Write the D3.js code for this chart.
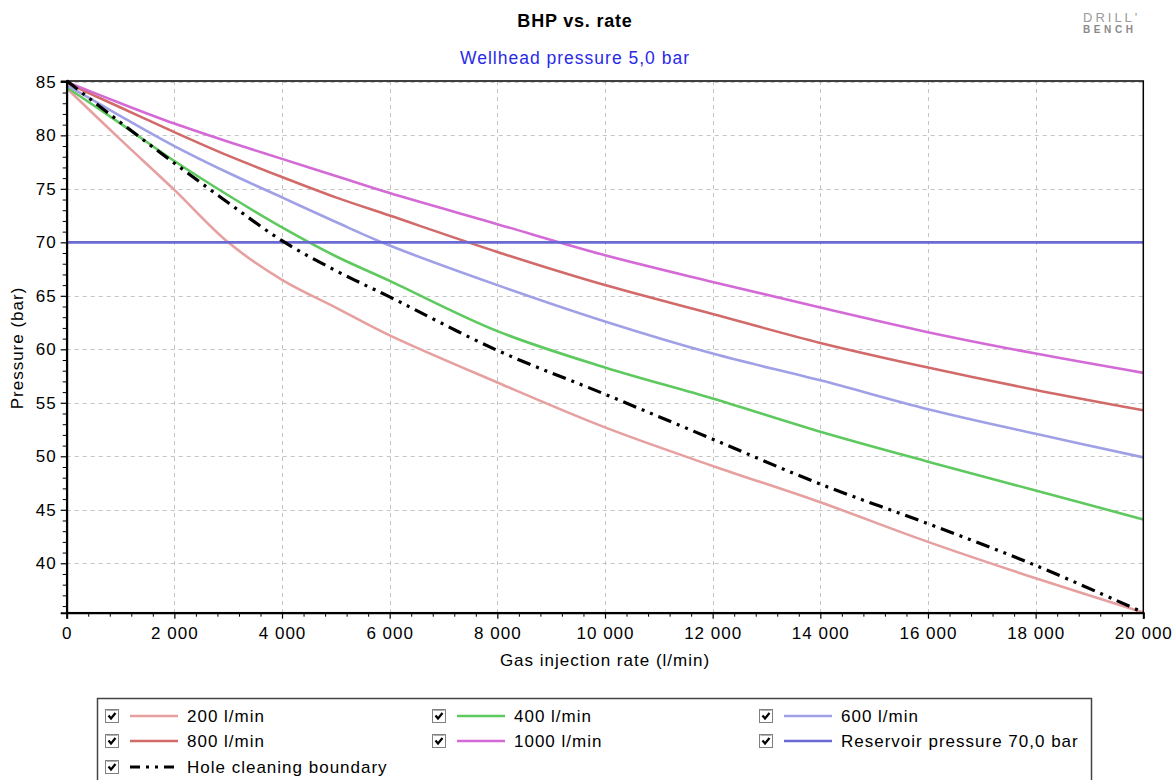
<!DOCTYPE html>
<html>
<head>
<meta charset="utf-8">
<script src="https://cdn.jsdelivr.net/npm/d3@7"></script>
<style>
  html, body { margin: 0; padding: 0; background: #fff; }
  svg text { font-family: "Liberation Sans", Arial, sans-serif; }
</style>
</head>
<body>
<svg id="chart" width="1173" height="780"></svg>
<script>
// ---------------- data ----------------
const rates = [0, 1000, 2000, 3000, 4000, 5000, 6000, 8000, 10000, 12000, 14000, 16000, 18000, 20000];
const bhp200  = [84.4, 79.6, 74.9, 70.0, 66.5, 63.9, 61.3, 56.9, 52.7, 49.1, 45.7, 42.0, 38.6, 35.4];
const bhp400  = [84.5, 81.1, 77.6, 74.4, 71.4, 68.7, 66.4, 61.7, 58.3, 55.4, 52.3, 49.5, 46.8, 44.1];
const bhp600  = [84.7, 81.8, 79.0, 76.5, 74.2, 71.9, 69.7, 66.0, 62.6, 59.6, 57.1, 54.4, 52.1, 49.9];
const bhp800  = [84.9, 82.6, 80.3, 78.1, 76.1, 74.2, 72.5, 69.1, 66.0, 63.3, 60.6, 58.3, 56.2, 54.3];
const bhp1000 = [85.0, 83.0, 81.1, 79.4, 77.8, 76.2, 74.6, 71.7, 68.8, 66.3, 63.9, 61.6, 59.6, 57.8];
const holeCleaning = [85.1, 81.2, 77.4, 73.7, 70.15, 67.35, 64.9, 59.9, 55.8, 51.6, 47.4, 43.7, 39.8, 35.4];
const reservoirPressure = 70.0;
const xTicks = [0, 2000, 4000, 6000, 8000, 10000, 12000, 14000, 16000, 18000, 20000];
const yTicks = [40, 45, 50, 55, 60, 65, 70, 75, 80, 85];
const legendLabels = ["200 l/min", "400 l/min", "600 l/min", "800 l/min", "1000 l/min", "Reservoir pressure 70,0 bar", "Hole cleaning boundary"];
const titleText = "BHP vs. rate";
const subtitleText = "Wellhead pressure 5,0 bar";
const xLabel = "Gas injection rate (l/min)";
const yLabel = "Pressure (bar)";

// ---------------- styles ----------------
const series = [
  { key: "200",  values: bhp200,  color: "#e6a0a0" },
  { key: "400",  values: bhp400,  color: "#5ec95e" },
  { key: "600",  values: bhp600,  color: "#a0a0e6" },
  { key: "800",  values: bhp800,  color: "#d26a6a" },
  { key: "1000", values: bhp1000, color: "#d46ad6" }
];
const resColor = "#6a6ad2";
const holeDash = "14,6,3,6,3,6";

const svg = d3.select("#chart");
const L = 66.7, R = 1143.3, T = 81, B = 612.7;

const x = d3.scaleLinear().domain([0, 20000]).range([L, R]);
const y = d3.scaleLinear().domain([35.38, 85.08]).range([B, T]);

const fmt = v => d3.format(",")(v).replace(/,/g, " ");
const LS = "1px";

// title / subtitle
svg.append("text").attr("x", 575).attr("y", 27).attr("text-anchor", "middle")
  .attr("font-size", 18).attr("font-weight", "bold").attr("letter-spacing", "0.8px").attr("fill", "#000").text(titleText);
svg.append("text").attr("x", 575).attr("y", 64).attr("text-anchor", "middle")
  .attr("font-size", 17.5).attr("letter-spacing", LS).attr("fill", "#2a2ae6").text(subtitleText);

// logo
svg.append("text").attr("x", 1083).attr("y", 22).attr("font-size", 13).attr("letter-spacing", "3px")
  .attr("fill", "#9a9a9a").text("DRILL'");
svg.append("text").attr("x", 1083).attr("y", 33).attr("font-size", 10).attr("font-weight", "bold").attr("letter-spacing", "3.6px")
  .attr("fill", "#8a8a8a").text("BENCH");

// grid
const grid = svg.append("g").attr("stroke", "#c4c4c4").attr("stroke-width", 1).attr("stroke-dasharray", "4,4");
xTicks.filter(v => v > 0 && v < 20000).forEach(v => {
  grid.append("line").attr("x1", Math.round(x(v)) + 0.5).attr("x2", Math.round(x(v)) + 0.5).attr("y1", T).attr("y2", B);
});
yTicks.forEach(v => {
  grid.append("line").attr("x1", L).attr("x2", R).attr("y1", Math.round(y(v)) + 0.5).attr("y2", Math.round(y(v)) + 0.5);
});

// curves
const line = d3.line().x((d, i) => x(rates[i])).y(d => y(d)).curve(d3.curveCatmullRom.alpha(0.5));
const plot = svg.append("g");
series.forEach(s => {
  plot.append("path").attr("d", line(s.values)).attr("fill", "none")
    .attr("stroke", s.color).attr("stroke-width", 2.6);
});
plot.append("line").attr("x1", L).attr("x2", R).attr("y1", y(reservoirPressure)).attr("y2", y(reservoirPressure))
  .attr("stroke", resColor).attr("stroke-width", 2.6);
plot.append("path").attr("d", line(holeCleaning)).attr("fill", "none")
  .attr("stroke", "#000").attr("stroke-width", 3.2).attr("stroke-dasharray", holeDash);

// frame
svg.append("rect").attr("x", L).attr("y", T).attr("width", R - L).attr("height", B - T)
  .attr("fill", "none").attr("stroke", "#000").attr("stroke-width", 1.5);

// axes
const xAxis = d3.axisBottom(x).tickValues(xTicks).tickFormat(fmt).tickSize(6).tickPadding(8);
const gx = svg.append("g").attr("transform", `translate(0,${B})`).call(xAxis);
const yAxis = d3.axisLeft(y).tickValues(yTicks).tickSize(6).tickPadding(4);
const gy = svg.append("g").attr("transform", `translate(${L},0)`).call(yAxis);
[gx, gy].forEach(g => {
  g.select(".domain").attr("stroke", "#000").attr("stroke-width", 2);
  g.selectAll(".tick line").attr("stroke", "#000").attr("stroke-width", 1.2);
  g.selectAll(".tick text").attr("font-size", 17).attr("letter-spacing", LS).attr("fill", "#000")
    .attr("font-family", "'Liberation Sans', Arial, sans-serif");
});
// minor ticks
const xMinor = d3.range(0, 20001, 400).filter(v => v % 2000 !== 0);
svg.append("g").attr("transform", `translate(0,${B})`)
  .call(d3.axisBottom(x).tickValues(xMinor).tickSize(4).tickFormat(""))
  .call(g => g.select(".domain").remove())
  .selectAll("line").attr("stroke", "#000").attr("stroke-width", 1);
const yMinor = d3.range(36, 85, 1).filter(v => v % 5 !== 0);
svg.append("g").attr("transform", `translate(${L},0)`)
  .call(d3.axisLeft(y).tickValues(yMinor).tickSize(4).tickFormat(""))
  .call(g => g.select(".domain").remove())
  .selectAll("line").attr("stroke", "#000").attr("stroke-width", 1);

// axis labels
svg.append("text").attr("x", 605).attr("y", 666).attr("text-anchor", "middle")
  .attr("font-size", 17).attr("letter-spacing", LS).attr("fill", "#000").text(xLabel);
svg.append("text").attr("transform", "translate(23,348) rotate(-90)").attr("text-anchor", "middle")
  .attr("font-size", 17).attr("letter-spacing", LS).attr("fill", "#000").text(yLabel);

// legend
const leg = svg.append("g");
leg.append("rect").attr("x", 97.5).attr("y", 698.5).attr("width", 994).attr("height", 100)
  .attr("fill", "#fff").attr("stroke", "#444").attr("stroke-width", 1.5);
const legItems = [
  { label: legendLabels[0], color: series[0].color, col: 0, row: 0 },
  { label: legendLabels[1], color: series[1].color, col: 1, row: 0 },
  { label: legendLabels[2], color: series[2].color, col: 2, row: 0 },
  { label: legendLabels[3], color: series[3].color, col: 0, row: 1 },
  { label: legendLabels[4], color: series[4].color, col: 1, row: 1 },
  { label: legendLabels[5], color: resColor, col: 2, row: 1 },
  { label: legendLabels[6], color: "#000", col: 0, row: 2, dash: true }
];
const colX = [105, 432, 759];
const rowY = [716, 741, 767];
legItems.forEach(it => {
  const cx = colX[it.col], cy = rowY[it.row];
  const g = leg.append("g");
  g.append("rect").attr("x", cx + 0.5).attr("y", cy - 6.5).attr("width", 13).attr("height", 13)
    .attr("fill", "#fff").attr("stroke", "#808080").attr("stroke-width", 1);
  g.append("path").attr("d", `M${cx + 1.5},${cy - 5.5} L${cx + 12.5},${cy - 5.5}`)
    .attr("stroke", "#b0b0b0").attr("stroke-width", 1);
  g.append("path").attr("d", `M${cx + 3.5},${cy - 0.5} L${cx + 6},${cy + 2.5} L${cx + 10.5},${cy - 3}`)
    .attr("fill", "none").attr("stroke", "#000").attr("stroke-width", 2.2);
  g.append("line").attr("x1", cx + 25).attr("x2", cx + 73).attr("y1", cy).attr("y2", cy)
    .attr("stroke", it.color).attr("stroke-width", it.dash ? 3.2 : 2.6)
    .attr("stroke-dasharray", it.dash ? "10,6,3,6,3,6" : null);
  g.append("text").attr("x", cx + 82).attr("y", cy + 6).attr("font-size", 17).attr("letter-spacing", LS)
    .attr("fill", "#000").text(it.label);
});
</script>
</body>
</html>
